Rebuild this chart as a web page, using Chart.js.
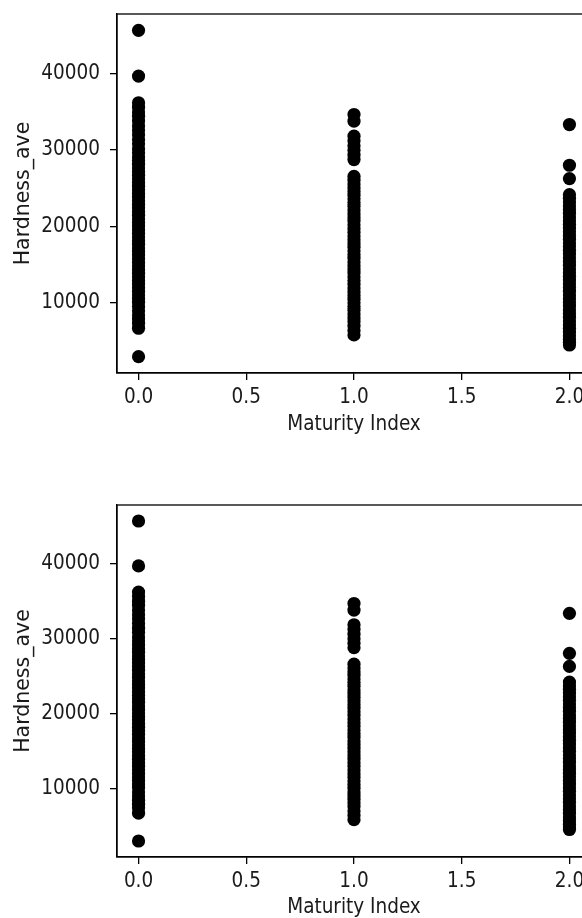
<!DOCTYPE html>
<html>
<head>
<meta charset="utf-8">
<script src="https://cdn.jsdelivr.net/npm/chart.js@4"></script>
<style>
  html, body { margin: 0; padding: 0; background: #fff; overflow: hidden; }
  body { width: 582px; height: 918px; position: relative; }
  canvas { position: absolute; left: 0; }
  #top { top: 0; }
  #bottom { top: 460px; }
</style>
</head>
<body>
<canvas id="top" width="600" height="445"></canvas>
<canvas id="bottom" width="600" height="458"></canvas>
<script>
// maturity index categories and the hardness readings seen at each one
const maturityLevels = [0, 1, 2];

const hardnessMat0 = [45620, 39640, 36160, 35580, 34950, 34400, 33770, 33150, 32600, 31980,
    31350, 30800, 30170, 29650, 29100, 28620, 28140, 27650, 27180, 26700, 26230, 25750,
    25260, 24800, 24330, 23850, 23370, 22900, 22410, 21950, 21480, 21000, 20520, 20060,
    19580, 19110, 18640, 18160, 17690, 17210, 16740, 16270, 15800, 15320, 14850, 14380,
    13900, 13430, 12960, 12490, 12010, 11540, 11070, 10600, 10130, 9550, 9000, 8450,
    7920, 7390, 6720, 3010];

const hardnessMat1 = [34630, 33760, 31800, 31200, 30550, 29950, 29330, 28750, 26560, 26050,
    25560, 25080, 24590, 24100, 23620, 23130, 22650, 22160, 21680, 21190, 20710, 20220,
    19740, 19250, 18770, 18280, 17800, 17310, 16830, 16340, 15860, 15370, 14890, 14400,
    13920, 13430, 12950, 12460, 11980, 11490, 11010, 10520, 10040, 9550, 9070, 8580,
    8100, 7610, 7000, 6420, 5850];

const hardnessMat2 = [33320, 28000, 26260, 24170, 23680, 23200, 22710, 22230, 21740, 21260,
    20770, 20290, 19800, 19320, 18830, 18350, 17860, 17380, 16890, 16410, 15920, 15440,
    14950, 14470, 13980, 13500, 13010, 12530, 12040, 11560, 11070, 10590, 10100, 9620,
    9130, 8650, 8160, 7680, 7190, 6710, 6220, 5740, 5250, 4880, 4540];

const xTickValues = [0.0, 0.5, 1.0, 1.5, 2.0];
const yTickValues = [10000, 20000, 30000, 40000];

const hardnessByLevel = [hardnessMat0, hardnessMat1, hardnessMat2];

const points = [];
maturityLevels.forEach((m, i) => {
    hardnessByLevel[i].forEach(h => points.push({ x: m, y: h }));
});

const font = { family: "'DejaVu Sans Condensed', 'DejaVu Sans', sans-serif", size: 20.5 };
const yTitleFont = { family: "'DejaVu Sans', sans-serif", size: 20.5 };
const textColor = '#1a1a1a';

// matplotlib style box around the plot area
const framePlugin = {
    id: 'frame',
    afterDraw(chart) {
        const { ctx, chartArea: a } = chart;
        ctx.save();
        ctx.strokeStyle = '#000';
        ctx.lineWidth = 1.3;
        ctx.strokeRect(a.left, a.top, a.right - a.left, a.bottom - a.top);
        ctx.restore();
    }
};

function createScatter(ctx, padTop, axisHeight, titlePad) {
    return new Chart(ctx, {
        type: 'scatter',
        data: {
            datasets: [{
                label: 'Hardness_ave',
                data: points,
                backgroundColor: '#000',
                borderWidth: 0,
                pointRadius: 6.6
            }]
        },
        options: {
            responsive: false,
            animation: false,
            layout: { padding: { left: 0, right: 9, top: padTop, bottom: 0 } },
            plugins: { legend: { display: false }, tooltip: { enabled: false } },
            scales: {
                x: {
                    type: 'linear',
                    min: -0.1,
                    max: 2.1,
                    afterBuildTicks: s => { s.ticks = xTickValues.map(v => ({ value: v })); },
                    afterFit: s => { s.height = axisHeight; s.paddingLeft = 0; s.paddingRight = 0; },
                    ticks: {
                        padding: 5,
                        color: textColor,
                        font: font,
                        autoSkip: false,
                        maxRotation: 0,
                        callback: v => v.toFixed(1)
                    },
                    grid: { drawOnChartArea: false, drawTicks: true, tickLength: 7, color: '#000', lineWidth: 1.3 },
                    border: { display: true, color: '#000', width: 1.3 },
                    title: {
                        display: true,
                        text: 'Maturity Index',
                        color: textColor,
                        font: font,
                        padding: { top: 0, bottom: titlePad }
                    }
                },
                y: {
                    min: 880,
                    max: 47750,
                    afterBuildTicks: s => { s.ticks = yTickValues.map(v => ({ value: v })); },
                    afterFit: s => { s.width = 117; s.paddingTop = 0; s.paddingBottom = 0; },
                    ticks: {
                        padding: 10,
                        color: textColor,
                        font: font,
                        callback: v => String(v)
                    },
                    grid: { drawOnChartArea: false, drawTicks: true, tickLength: 7, color: '#000', lineWidth: 1.3 },
                    border: { display: true, color: '#000', width: 1.3 },
                    title: {
                        display: true,
                        text: 'Hardness_ave',
                        color: textColor,
                        font: yTitleFont,
                        padding: { top: 11, bottom: 0 }
                    }
                }
            }
        },
        plugins: [framePlugin]
    });
}

createScatter(document.getElementById('top'), 14, 72, 8);
createScatter(document.getElementById('bottom'), 45, 61, -2);
</script>
</body>
</html>
